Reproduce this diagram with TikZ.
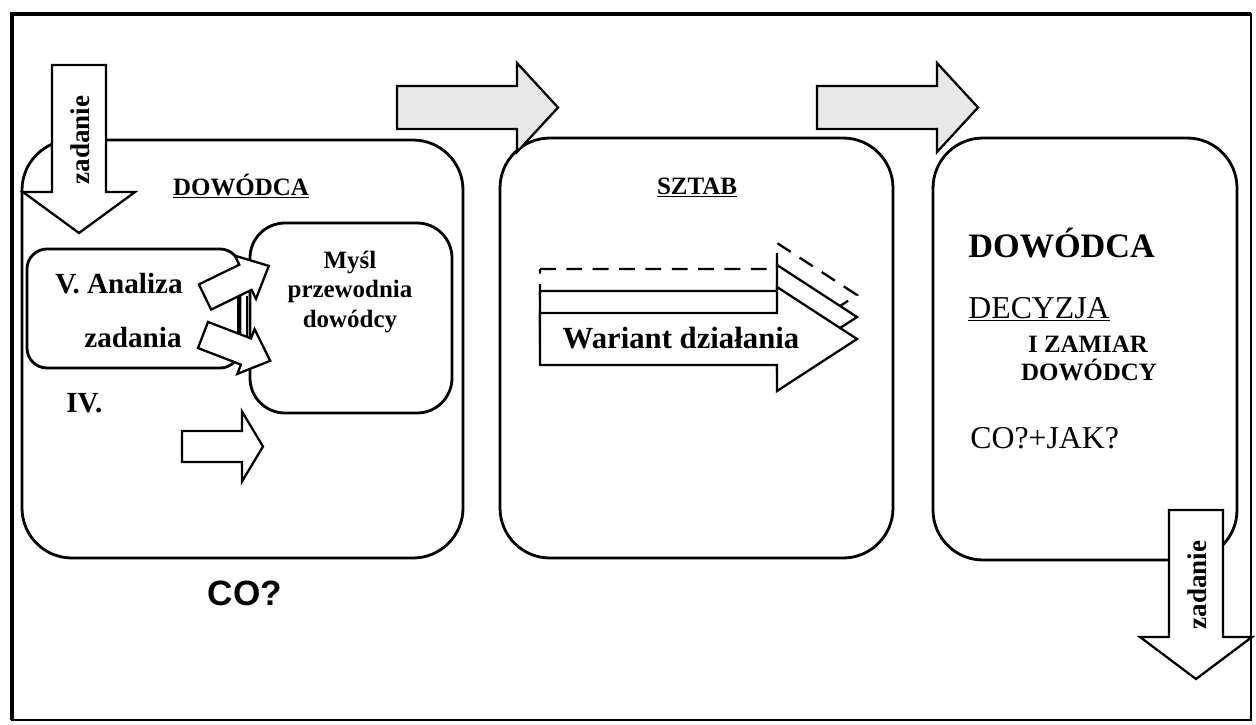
\documentclass[tikz,border=0pt]{standalone}
\usepackage{fontspec}
\setmainfont{Liberation Serif}
\newfontfamily\sansfont{Liberation Sans}
\usepackage{tikz}
\usetikzlibrary{positioning}

% options, tail centre, rotation, shaft length, half shaft, half head, head length
\newcommand{\blockarrow}[7]{%
  \draw[#1, shift={#2}, rotate=#3] (0,-#5) -- (#4,-#5) -- (#4,-#6) -- ++(#7,#6)
    -- (#4,#6) -- (#4,#5) -- (0,#5) -- cycle;}

\begin{document}
\begin{tikzpicture}[x=0.02cm, y=-0.02cm]
        \tikzstyle{every node}=[inner sep=0pt]
        \tikzstyle{box}=[draw, line width=1.6pt, rounded corners=1cm]
        \tikzstyle{barrow}=[draw, line width=1.3pt, fill=white]
        \tikzstyle{grayarrow}=[barrow, fill=black!9]
        \tikzstyle{bsmall}=[anchor=base, font=\bfseries\fontsize{14.2}{17}\selectfont]
        \tikzstyle{bmid}=[anchor=base, font=\bfseries\fontsize{16.6}{20}\selectfont]
        \tikzstyle{rplain}=[anchor=base west, font=\fontsize{18.1}{22}\selectfont]
        \tikzstyle{vertlabel}=[anchor=center, rotate=90, font=\bfseries\fontsize{15.4}{18}\selectfont]
        \useasboundingbox (0,0) rectangle (1256,724);
        \fill[white] (0,0) rectangle (1256,724);
        \draw[line width=1.2pt] (12,14) rectangle (1251,720);
        \draw[line width=2.4pt] (12,720) -- (12,14) -- (1251,14);

        \draw[box] (22,140) rectangle (463,558);
        \draw[box] (500,138) rectangle (893,558);
        \draw[box] (933,138) rectangle (1237,560);
        \draw[box, rounded corners=0.4cm] (27,249) rectangle (240,368);
        \draw[box, rounded corners=0.7cm] (250,223) rectangle (452,413);

        \blockarrow{grayarrow}{(397,107.5)}{0}{120}{21.5}{44.5}{41}
        \blockarrow{grayarrow}{(817,107.5)}{0}{120}{21.5}{44.5}{41}
        \blockarrow{barrow}{(79,65)}{-90}{127}{27}{56}{41}
        \blockarrow{barrow}{(1196,510)}{-90}{127}{27}{56}{42}
        \node[vertlabel] (zad1) at (80,140) {zadanie};
        \node[vertlabel] (zad2) at (1197,585) {zadanie};

        \node[bsmall] (dow1) at (241,195) {\underline{DOWÓDCA}};
        \node[bmid] (analiza) at (119,293) {V. Analiza};
        \node[bmid] (zadania) at (133,347) {zadania};
        \node[bmid, anchor=base west] (iv) at (66,412) {IV.};
        \node[bsmall] (mysl) at (350,268) {Myśl};
        \node[bsmall] (przew) at (350,297) {przewodnia};
        \node[bsmall] (dowcy) at (350,327) {dowódcy};
        \draw[line width=1.3pt] (238,296) -- (238,334) (247,296) -- (247,336);
        \blockarrow{barrow}{(205,297)}{26}{45}{14}{24}{26}
        \blockarrow{barrow}{(203,335)}{-21}{46}{14}{24}{26}
        \blockarrow{barrow}{(182,446.5)}{0}{60}{15.5}{35}{21}
        \node[anchor=base, font=\sansfont\bfseries\fontsize{20}{24}\selectfont] (co) at (245,605) {CO?};

        \node[bsmall] (sztab) at (697,194) {\underline{SZTAB}};
        \blockarrow{barrow, dashed, dash pattern=on 9pt off 6pt, fill=none}{(540,295)}{0}{237}{26}{52}{80}
        \blockarrow{barrow}{(540,317)}{0}{237}{26}{52}{80}
        \blockarrow{barrow}{(540,339)}{0}{237}{26}{52}{80}
        \node[anchor=base, font=\bfseries\fontsize{17.5}{21}\selectfont] (wariant) at (681,348) {Wariant działania};

        \node[anchor=base west, font=\bfseries\fontsize{19.5}{23}\selectfont] (dow3) at (968,257) {DOWÓDCA};
        \node[rplain] (decyzja) at (968,318) {\underline{DECYZJA}};
        \node[bsmall] (zamiar) at (1088,352) {I ZAMIAR};
        \node[bsmall] (dowcy3) at (1089,380) {DOWÓDCY};
        \node[rplain] (cojak) at (970,448) {CO?+JAK?};
      \end{tikzpicture}
\end{document}
